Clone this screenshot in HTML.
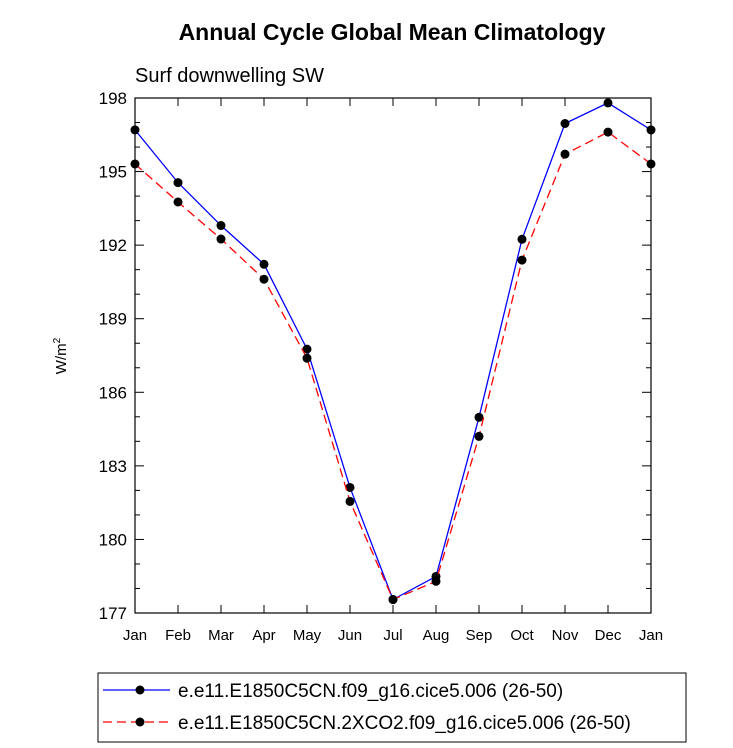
<!DOCTYPE html>
<html><head><meta charset="utf-8"><style>
body{margin:0;background:#fff;}
svg{display:block;font-family:"Liberation Sans",sans-serif;}
</style></head><body>
<svg id="chart" width="733" height="748">
<text x="392" y="40" text-anchor="middle" font-size="23" font-weight="bold">Annual Cycle Global Mean Climatology</text>
<text x="135" y="82" font-size="20">Surf downwelling SW</text>
<text transform="translate(66,356) rotate(-90)" text-anchor="middle" font-size="15">W/m<tspan dy="-6" font-size="10">2</tspan></text>
<g id="axes"></g>
<g id="series"></g>
<g>
<rect x="98" y="673" width="588" height="69" fill="none" stroke="#000" stroke-width="1"/>
<line x1="103" y1="690" x2="170" y2="690" stroke="#00f" stroke-width="1.3"/>
<circle cx="140" cy="690" r="4.5" fill="#000"/>
<text x="178" y="697" font-size="19">e.e11.E1850C5CN.f09_g16.cice5.006 (26-50)</text>
<line x1="103" y1="722" x2="170" y2="722" stroke="#f00" stroke-width="1.3" stroke-dasharray="9,5"/>
<circle cx="140" cy="722" r="4.5" fill="#000"/>
<text x="178" y="729" font-size="19">e.e11.E1850C5CN.2XCO2.f09_g16.cice5.006 (26-50)</text>
</g>
</svg>
<script>
const months=["Jan","Feb","Mar","Apr","May","Jun","Jul","Aug","Sep","Oct","Nov","Dec","Jan"];
const ctrlValues=[196.7,194.55,192.8,191.22,187.76,182.12,177.55,178.49,184.98,192.24,196.96,197.8,196.7];
const co2Values=[195.31,193.76,192.25,190.61,187.39,181.55,177.55,178.29,184.2,191.39,195.71,196.61,195.31];
const yTicks=[177,180,183,186,189,192,195,198];
const X0=135,X1=651,Y0=98,Y1=613,YMIN=177,YMAX=198;
const xs=i=>X0+(X1-X0)*i/(months.length-1);
const ys=v=>Y1-(v-YMIN)/(YMAX-YMIN)*(Y1-Y0);
const NS="http://www.w3.org/2000/svg";
function mk(t,a,p){const e=document.createElementNS(NS,t);for(const k in a)e.setAttribute(k,a[k]);p.appendChild(e);return e;}
const ax=document.getElementById('axes');
const frame=mk('rect',{x:X0,y:Y0,width:X1-X0,height:Y1-Y0,fill:'none',stroke:'#000','stroke-width':1.2},ax);


months.forEach((m,i)=>{const x=xs(i);
mk('line',{x1:x,y1:Y1,x2:x,y2:Y1-8,stroke:'#000'},ax);mk('line',{x1:x,y1:Y0,x2:x,y2:Y0+8,stroke:'#000'},ax);
const t=mk('text',{x:x,y:Y1+27,'text-anchor':'middle','font-size':15},ax);t.textContent=m;

});
for(let v=YMIN;v<=YMAX;v+=1){const y=ys(v);const maj=(v-YMIN)%3===0;const L=maj?9:5;
mk('line',{x1:X0,y1:y,x2:X0+L,y2:y,stroke:'#000'},ax);mk('line',{x1:X1,y1:y,x2:X1-L,y2:y,stroke:'#000'},ax);}
yTicks.forEach(v=>{const t=mk('text',{x:X0-8,y:ys(v)+6,'text-anchor':'end','font-size':17},ax);t.textContent=v;

});
const sg=document.getElementById('series');
function draw(vals,color,dash,name){const pts=vals.map((v,i)=>xs(i)+','+ys(v)).join(' ');
const pl=mk('polyline',{points:pts,fill:'none',stroke:color,'stroke-width':1.3,'stroke-dasharray':dash},sg);


vals.forEach((v,i)=>{const c=mk('circle',{cx:xs(i),cy:ys(v),r:4.5,fill:'#000'},sg);

});}
draw(ctrlValues,'#00f','none','control-series');
draw(co2Values,'#f00','9,5','co2-series');
</script>
</body></html>
